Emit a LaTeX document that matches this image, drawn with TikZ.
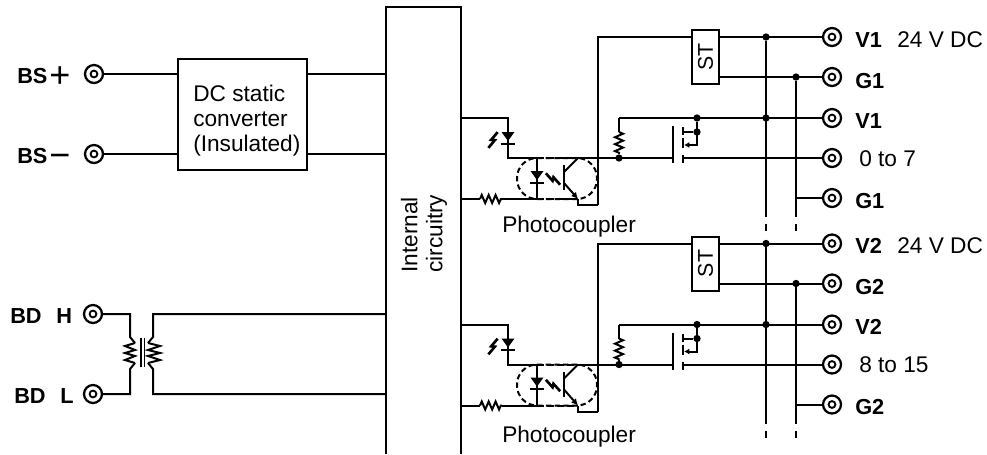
\documentclass[tikz,border=0pt]{standalone}
\usepackage{fontspec}
\setmainfont{Liberation Sans}
\usetikzlibrary{arrows.meta,decorations.pathmorphing}
\tikzset{
	wire/.style={line width=1.5pt,line join=miter},
	terminal/.style={circle,draw,line width=1.7pt,inner sep=0,minimum size=13.5pt,
			path picture={\draw[line width=1.4pt] (path picture bounding box.center) circle (3.4);}},
	junction/.style={circle,fill,inner sep=0,minimum size=5.5pt},
	txt/.style={anchor=base west,inner sep=0,font=\fontsize{17}{18.75}\selectfont},
	termtxt/.style={anchor=base west,inner sep=0,font=\fontsize{16.3}{18}\selectfont\bfseries},
	resistor/.style={wire,decorate,decoration={zigzag,amplitude=3pt,segment length=5.2pt}},
	led/.pic={
			\fill (-6.5,-5) -- (6.5,-5) -- (0,4) -- cycle;
			\draw[line width=1.5pt] (-7,6.5) -- (7,6.5);
		},
	bolt/.pic={
			\draw[line width=2pt] (-9,1.5) -- (1,1.5) -- (-1,-1.5) -- (9,-1.5);
		}
}
\begin{document}
\begin{tikzpicture}[x=0.75pt,y=-0.75pt]
	\useasboundingbox (0,0) rectangle (987,454);
	% internal circuitry block, open at the bottom
	\coordinate (boxbl) at (386,454);
	\coordinate (boxtl) at (386,7);
	\coordinate (boxtr) at (461,7);
	\coordinate (boxbr) at (461,454);
	\draw[wire] (boxbl) -- (boxtl) -- (boxtr) -- (boxbr);
	\node[txt,rotate=90,anchor=west,align=left] (internal) at (424,273) {Internal\\circuitry};
	% power side
	\node[draw,wire,minimum width=96.75pt,minimum height=83.25pt,inner sep=0] (dcdc) at (242.5,114.5) {};
	\node[txt,anchor=north west,align=left] (dctxt) at (193,85) {DC static\\converter\\(Insulated)};
	\node[terminal] (bsp) at (94,74) {};
	\node[terminal] (bsm) at (94,154) {};
	\node[termtxt] (bsplbl) at (17,83) {BS\hspace{1.5pt}\raisebox{-3pt}{\fontsize{27}{27}\selectfont\mdseries +}};
	\node[termtxt] (bsmlbl) at (17,163) {BS\hspace{1.5pt}\raisebox{-3pt}{\fontsize{27}{27}\selectfont\mdseries −}};
	\draw[wire] (bsp) -- (bsp -| dcdc.west);
	\draw[wire] (bsm) -- (bsm -| dcdc.west);
	\draw[wire] (dcdc.east |- bsp) -- (bsp -| boxtl);
	\draw[wire] (dcdc.east |- bsm) -- (bsm -| boxtl);
	% bus side with the transformer
	\node[terminal] (bdh) at (93,314) {};
	\node[terminal] (bdl) at (93,394) {};
	\node[termtxt] (bdhlbl) at (10,323) {BD\hspace{11pt}H};
	\node[termtxt] (bdllbl) at (14,403) {BD\hspace{11pt}L};
	\coordinate (lt) at (130,314);
	\coordinate (lb) at (130,394);
	\coordinate (rt) at (153,314);
	\coordinate (rb) at (153,394);
	\draw[wire] (bdh) -- (lt) -- (130,337) -- (135,343);
	\draw[wire] (bdl) -- (lb) -- (130,369) -- (135,363);
	\draw[wire] (rt -| boxtl) -- (rt) -- (153,337) -- (148,343);
	\draw[wire] (rb -| boxtl) -- (rb) -- (153,369) -- (148,363);
	\draw[wire] (135,343) -- (125,346) -- (135,350) -- (125,353) -- (135,356) -- (125,360) -- (135,363);
	\draw[wire] (148,343) -- (160,346) -- (148,350) -- (160,353) -- (148,356) -- (160,360) -- (148,363);
	\draw[line width=1.2pt] (141,338) -- (141,367);
	\draw[line width=1.2pt] (144.5,338) -- (144.5,367);
	% output channels
	\foreach \n/\dy/\phy/\ch/\vv/\gg in {1/0/232/0 to 7/V1/G1,2/206.5/442/8 to 15/V2/G2}{
		\begin{scope}[shift={(0,\dy)}]
			\node[terminal] (ta\n) at (832,37) {};
			\node[terminal] (tb\n) at (832,77) {};
			\node[terminal] (tc\n) at (832,118) {};
			\node[terminal] (td\n) at (832,158) {};
			\node[terminal] (te\n) at (832,198) {};
			\node[termtxt] (la\n) at (855,47) {\vv};
			\node[txt] (dc\n) at (897,47) {24 V DC};
			\node[termtxt] (lb\n) at (855,88) {\gg};
			\node[termtxt] (lc\n) at (855,128) {\vv};
			\node[txt] (ld\n) at (859,166) {\ch};
			\node[termtxt] (le\n) at (855,208) {\gg};
			% stabilizer
			\node[draw,wire,minimum width=20.25pt,minimum height=40.5pt,inner sep=0] (st\n) at (705.5,57) {\rotatebox{90}{\fontsize{16}{16}\selectfont ST}};
			\node[junction] (jva\n) at (766,37) {};
			\node[junction] (jvb\n) at (766,118) {};
			\node[junction] (jga\n) at (796,77) {};
			\coordinate (va\n) at (766,217);
			\coordinate (vb\n) at (766,224);
			\coordinate (vc\n) at (766,231);
			\coordinate (ga\n) at (796,217);
			\coordinate (gb\n) at (796,224);
			\coordinate (gc\n) at (796,231);
			\coordinate (gd\n) at (796,198);
			\draw[wire] (st\n.east |- ta\n) -- (ta\n);
			\draw[wire] (st\n.east |- tb\n) -- (tb\n);
			\draw[wire] (jva\n) -- (va\n);
			\draw[wire] (vb\n) -- (vc\n);
			\draw[wire] (jga\n) -- (ga\n);
			\draw[wire] (gb\n) -- (gc\n);
			\draw[wire] (gd\n) -- (te\n);
			% photocoupler
			\coordinate (ain\n) at (461,118);
			\coordinate (bin\n) at (461,199);
			\coordinate (lk\n) at (508,158);
			\coordinate (ca\n) at (537,158);
			\coordinate (cb\n) at (537,199);
			\coordinate (cq\n) at (578,158);
			\coordinate (eq\n) at (578,199);
			\coordinate (ret\n) at (598,158);
			\coordinate (rettop\n) at (598,37);
			\coordinate (retbot\n) at (598,205);
			\coordinate (rs\n) at (480,199);
			\coordinate (re\n) at (502,199);
			\coordinate (rtop\n) at (619,118);
			\coordinate (rr\n) at (619,132);
			\coordinate (rq\n) at (619,153);
			\node[junction] (jr\n) at (619,158) {};
			\draw[wire] (ain\n) -| (lk\n) -- (ca\n);
			\draw[wire,dashed,dash pattern=on 5pt off 2.5pt] (ca\n) -- (cq\n);
			\draw[wire] (cq\n) -- (ret\n);
			\draw[wire] (retbot\n) -- (rettop\n) -- (st\n.west |- ta\n);
			\draw[wire] (ca\n) -- (cb\n);
			\draw[wire] (bin\n) -- (rs\n);
			\draw[resistor] (rs\n) -- (re\n);
			\draw[wire] (re\n) -- (cb\n);
			\draw[wire,dashed,dash pattern=on 5pt off 2.5pt] (cb\n) -- (eq\n);
			\draw[wire] (eq\n) |- (retbot\n);
			\pic at (508,137) {led};
			\pic at (537,176) {led};
			\pic[rotate=50] at (493,140) {bolt};
			\pic[rotate=-48] at (553,179) {bolt};
			\node[draw,wire,dashed,dash pattern=on 4pt off 2.5pt,rounded corners=15pt,minimum width=60pt,minimum height=30.75pt,inner sep=0] (pc\n) at (557,178.5) {};
			\draw[line width=1.8pt] (564,165) -- (564,190);
			\draw[wire] (564,172) -- (cq\n);
			\draw[wire,-{Latex[length=5pt,width=5pt]}] (564,183) -- (eq\n);
			\node[txt] (pclbl\n) at (502,\phy-\dy) {Photocoupler};
			% output transistor
			\coordinate (gate\n) at (673,158);
			\coordinate (drn\n) at (683,158);
			\node[junction] (jd\n) at (697,118) {};
			\node[junction] (js\n) at (697,132) {};
			\draw[wire] (rtop\n) -- (tc\n);
			\draw[wire] (rtop\n) -- (rr\n);
			\draw[resistor] (rr\n) -- (rq\n);
			\draw[wire] (rq\n) -- (jr\n);
			\draw[wire] (ret\n) -- (gate\n);
			\draw[wire] (drn\n) -- (td\n);
			\draw[wire] (673,126) -- (673,163);
			\draw[wire] (683,127) -- (683,135);
			\draw[wire] (683,138) -- (683,148);
			\draw[wire] (683,155) -- (683,163);
			\draw[wire] (683,132) -- (js\n);
			\draw[wire] (jd\n) -- (697,145) -- (691,145);
			\draw[wire,-{Latex[length=4pt,width=4.5pt]}] (697,145) -- (684,145);
		\end{scope}
	}
\end{tikzpicture}
\end{document}
